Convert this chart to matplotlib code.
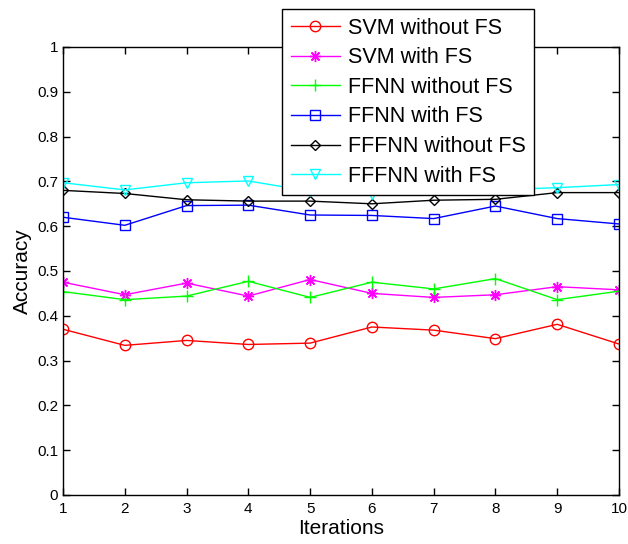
import numpy as np
import matplotlib
matplotlib.use("Agg")
import matplotlib.pyplot as plt

plt.rcParams['font.family'] = ['Liberation Sans', 'DejaVu Sans']

iterations = np.arange(1, 11)

svm_without_fs = [0.370, 0.334, 0.345, 0.336, 0.339, 0.375, 0.368, 0.349, 0.381, 0.337]
svm_with_fs = [0.475, 0.447, 0.473, 0.444, 0.481, 0.450, 0.441, 0.447, 0.465, 0.458]
ffnn_without_fs = [0.454, 0.436, 0.444, 0.477, 0.441, 0.475, 0.460, 0.483, 0.436, 0.455]
ffnn_with_fs = [0.620, 0.602, 0.646, 0.647, 0.625, 0.624, 0.617, 0.645, 0.617, 0.605]
fffnn_without_fs = [0.680, 0.673, 0.659, 0.656, 0.656, 0.650, 0.658, 0.660, 0.675, 0.675]
fffnn_with_fs = [0.697, 0.681, 0.697, 0.701, 0.678, 0.671, 0.681, 0.681, 0.686, 0.693]

# asterisk marker: 8 spokes like the MATLAB '*'
asterisk = (8, 2, 0)

series = [
    (svm_without_fs, 'SVM without FS', '#ff0000', 'o', 7.5),
    (svm_with_fs, 'SVM with FS', '#ff00ff', asterisk, 8),
    (ffnn_without_fs, 'FFNN without FS', '#00ff00', '+', 9),
    (ffnn_with_fs, 'FFNN with FS', '#0000ff', 's', 7),
    (fffnn_without_fs, 'FFFNN without FS', '#000000', 'D', 5.5),
    (fffnn_with_fs, 'FFFNN with FS', '#00ffff', 'v', 7.5),
]

fig = plt.figure(figsize=(6.28, 5.44), dpi=100)
ax = fig.add_axes([63 / 628, 49 / 544, 556 / 628, 448 / 544])

for vals, label, color, marker, ms in series:
    ax.plot(iterations, vals, color=color, marker=marker, markersize=ms,
            markerfacecolor='none', markeredgecolor=color, markeredgewidth=1.0,
            linewidth=1.0, label=label)

ax.set_xlim(1, 10)
ax.set_ylim(0, 1)
ax.set_xticks(iterations)
ax.set_yticks(np.round(np.arange(0, 1.01, 0.1), 1))
ax.set_yticklabels(['0', '0.1', '0.2', '0.3', '0.4', '0.5', '0.6', '0.7', '0.8', '0.9', '1'])
ax.tick_params(direction='in', top=True, right=True, labelsize=11, length=5, width=1)
ax.tick_params(axis='x', pad=5)
for sp in ax.spines.values():
    sp.set_linewidth(1.0)

ax.set_xlabel('Iterations', fontsize=15, labelpad=2)
ax.set_ylabel('Accuracy', fontsize=15, labelpad=4)

leg = ax.legend(loc='upper left', bbox_to_anchor=(282 / 628, 1 - 9 / 544),
                bbox_transform=fig.transFigure, fontsize=15.5, frameon=True,
                fancybox=False, framealpha=1, edgecolor='k', borderpad=0.4,
                labelspacing=0.4, handlelength=2.3, handletextpad=0.35, borderaxespad=0)
leg.get_frame().set_linewidth(1.0)

fig.savefig('out.png', dpi=100)
